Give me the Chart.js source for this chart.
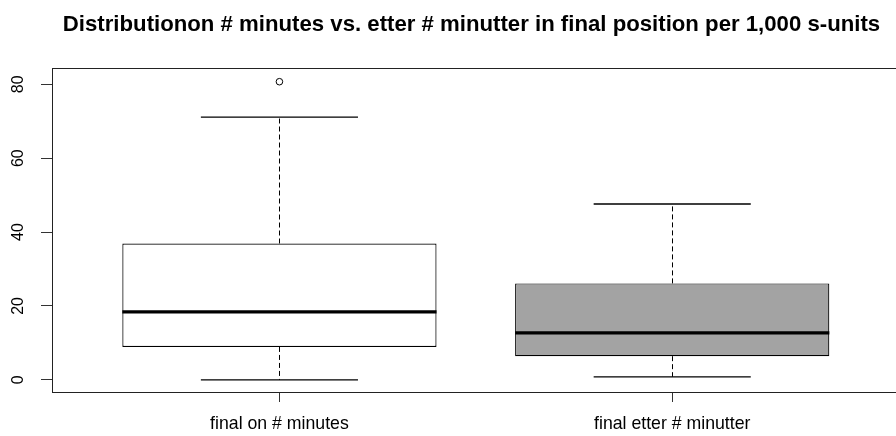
<!DOCTYPE html>
<html>
<head>
<meta charset="utf-8">
<script src="https://cdn.jsdelivr.net/npm/chart.js@4/dist/chart.umd.min.js"></script>
<style>
  html, body { margin: 0; padding: 0; background: #ffffff; }
  #wrap { width: 896px; height: 436px; position: relative; }
</style>
</head>
<body>
<div id="wrap"><canvas id="chart"></canvas></div>
<script>
// Five-number summaries per group (minutes per 1,000 s-units)
const categories = ['final on # minutes', 'final etter # minutter'];
const whiskerLow = [0.0, 0.8];
const q1 = [8.9, 6.4];
const median = [18.4, 12.7];
const q3 = [36.9, 26.1];
const whiskerHigh = [71.1, 47.6];
const outliers = [[80.7], []];
const yTicks = [0, 20, 40, 60, 80];

const FONT = "'Liberation Sans', Arial, sans-serif";

// Whiskers, caps, medians, frame and rotated y labels, all placed via the chart scales
const boxPlotMarks = {
  id: 'boxPlotMarks',
  afterDatasetsDraw(chart) {
    const { ctx, chartArea, scales: { x, y } } = chart;
    ctx.save();
    categories.forEach((c, i) => {
      const cx = Math.round(x.getPixelForValue(i + 1));
      const capL = x.getPixelForValue(i + 1 - 0.2);
      const capR = x.getPixelForValue(i + 1 + 0.2);
      const boxL = x.getPixelForValue(i + 1 - 0.4);
      const boxR = x.getPixelForValue(i + 1 + 0.4);

      // dashed whiskers
      ctx.strokeStyle = '#000';
      ctx.lineWidth = 1;
      ctx.setLineDash([5, 3]);
      ctx.beginPath();
      ctx.moveTo(cx + 0.5, y.getPixelForValue(q3[i]));
      ctx.lineTo(cx + 0.5, y.getPixelForValue(whiskerHigh[i]));
      ctx.moveTo(cx + 0.5, y.getPixelForValue(q1[i]));
      ctx.lineTo(cx + 0.5, y.getPixelForValue(whiskerLow[i]));
      ctx.stroke();

      // caps
      ctx.setLineDash([]);
      ctx.lineWidth = 1.3;
      ctx.beginPath();
      ctx.moveTo(capL, y.getPixelForValue(whiskerHigh[i]));
      ctx.lineTo(capR, y.getPixelForValue(whiskerHigh[i]));
      ctx.moveTo(capL, y.getPixelForValue(whiskerLow[i]));
      ctx.lineTo(capR, y.getPixelForValue(whiskerLow[i]));
      ctx.stroke();

      // median
      ctx.lineWidth = 3.2;
      ctx.beginPath();
      ctx.moveTo(boxL, y.getPixelForValue(median[i]));
      ctx.lineTo(boxR, y.getPixelForValue(median[i]));
      ctx.stroke();
    });

    // plot frame (right side runs past the canvas edge)
    ctx.setLineDash([]);
    ctx.lineWidth = 1;
    ctx.strokeStyle = '#222';
    ctx.strokeRect(Math.round(chartArea.left) + 0.5, Math.round(chartArea.top) + 0.5,
                   chartArea.right - chartArea.left + 20, Math.round(chartArea.bottom - chartArea.top));

    // vertical tick labels on the value axis
    ctx.fillStyle = '#000';
    ctx.font = '16px ' + FONT;
    ctx.textAlign = 'center';
    ctx.textBaseline = 'middle';
    y.ticks.forEach(t => {
      ctx.save();
      ctx.translate(19, y.getPixelForValue(t.value));
      ctx.rotate(-Math.PI / 2);
      ctx.fillText(String(t.value), 0, 0);
      ctx.restore();
    });
    ctx.restore();
  }
};

new Chart(document.getElementById('chart'), {
  type: 'bar',
  data: {
    datasets: [
      {
        type: 'bar',
        data: categories.map((c, i) => ({ x: i + 1, y: [q1[i], q3[i]] })),
        backgroundColor: ['#ffffff', '#a3a3a3'],
        borderColor: '#000000',
        borderWidth: 1.2,
        borderSkipped: false,
        barPercentage: 0.8,
        categoryPercentage: 1.0
      },
      {
        type: 'scatter',
        data: outliers.flatMap((vals, i) => vals.map(v => ({ x: i + 1, y: v }))),
        pointStyle: 'circle',
        pointRadius: 3.3,
        pointBackgroundColor: '#ffffff',
        pointBorderColor: '#000000',
        pointBorderWidth: 1
      }
    ]
  },
  options: {
    responsive: true,
    maintainAspectRatio: false,
    animation: false,
    layout: { padding: 0 },
    plugins: {
      legend: { display: false },
      tooltip: { enabled: false },
      title: {
        display: true,
        text: 'Distributionon # minutes vs. etter # minutter in final position per 1,000 s-units',
        color: '#000',
        fullSize: false,
        font: { family: FONT, size: 22.2, weight: 'bold' },
        padding: { top: 12, bottom: 29.4 }
      }
    },
    scales: {
      x: {
        type: 'linear',
        offset: false,
        min: 0.421,
        max: 2.557,
        afterBuildTicks(scale) { scale.ticks = categories.map((c, i) => ({ value: i + 1 })); },
        afterFit(scale) { scale.height = 44; },
        ticks: {
          color: '#000',
          font: { family: FONT, size: 17.7 },
          padding: 11,
          autoSkip: false,
          maxRotation: 0,
          callback: v => categories[v - 1]
        },
        grid: { offset: false, drawOnChartArea: false, drawTicks: true, tickLength: 10, color: '#333', lineWidth: 1 },
        border: { display: false }
      },
      y: {
        type: 'linear',
        min: -3.3,
        max: 84.4,
        afterBuildTicks(scale) { scale.ticks = yTicks.map(v => ({ value: v })); },
        afterFit(scale) { scale.width = 52; },
        ticks: { display: false },
        grid: { drawOnChartArea: false, drawTicks: true, tickLength: 11, color: '#333', lineWidth: 1 },
        border: { display: false }
      }
    }
  },
  plugins: [boxPlotMarks]
});
</script>
</body>
</html>
